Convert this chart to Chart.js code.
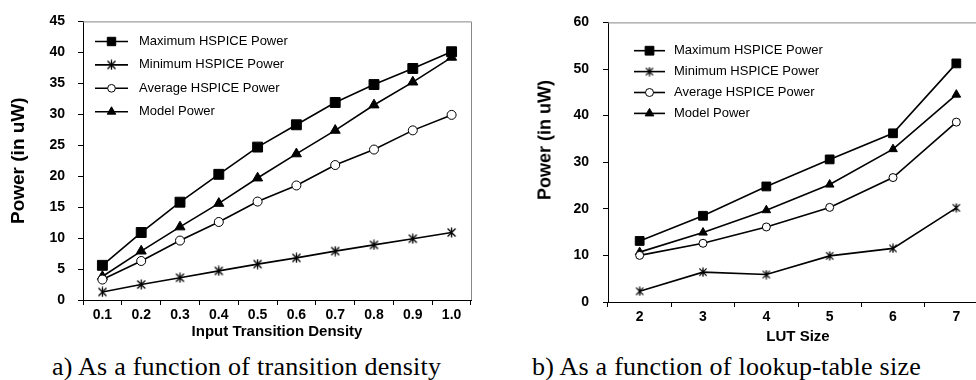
<!DOCTYPE html>
<html>
<head>
<meta charset="utf-8">
<script src="https://cdn.jsdelivr.net/npm/chart.js@4.4.1/dist/chart.umd.min.js"></script>
<style>
  html, body { margin: 0; padding: 0; background: #fff; overflow: hidden; }
  #wrap { position: relative; width: 976px; height: 380px; overflow: hidden; }
  #chartA { position: absolute; left: 0; top: 0; }
  #chartB { position: absolute; left: 500px; top: 0; }
  .caption { position: absolute; top: 352px; font-family: 'Liberation Serif', 'Times New Roman', serif; font-size: 26px; letter-spacing: 0.25px; line-height: 30px; color: #000; white-space: nowrap; }
  #capA { left: 52px; }
  #capB { left: 532px; }
  #ytitleB { position: absolute; left: 545px; top: 140px; transform: translate(-50%, -50%) rotate(-90deg);
             font-family: 'Liberation Sans', Arial, sans-serif; font-weight: bold; font-size: 18px; white-space: nowrap; }
</style>
</head>
<body>
<div id="wrap">
  <canvas id="chartA" width="490" height="345"></canvas>
  <canvas id="chartB" width="500" height="350"></canvas>
  <div id="ytitleB">Power (in uW)</div>
  <div class="caption" id="capA">a) As a function of transition density</div>
  <div class="caption" id="capB">b) As a function of lookup-table size</div>
</div>
<script>
// series names
const seriesNames = ['Maximum HSPICE Power', 'Minimum HSPICE Power', 'Average HSPICE Power', 'Model Power'];

// a) transition density
const densityLabels = ['0.1', '0.2', '0.3', '0.4', '0.5', '0.6', '0.7', '0.8', '0.9', '1.0'];
const densityMax = [5.6, 10.9, 15.8, 20.3, 24.7, 28.3, 31.9, 34.8, 37.4, 40.1];
const densityMin = [1.3, 2.5, 3.6, 4.7, 5.8, 6.8, 7.9, 8.9, 9.9, 10.9];
const densityAvg = [3.3, 6.3, 9.6, 12.6, 15.9, 18.5, 21.8, 24.3, 27.4, 29.9];
const densityModel = [3.8, 7.9, 11.8, 15.6, 19.7, 23.6, 27.4, 31.5, 35.2, 39.2];

// b) LUT size
const lutLabels = ['2', '3', '4', '5', '6', '7'];
const lutMax = [13.1, 18.5, 24.8, 30.6, 36.2, 51.2];
const lutMin = [2.3, 6.4, 5.9, 9.9, 11.5, 20.2];
const lutAvg = [10.0, 12.6, 16.1, 20.3, 26.7, 38.6];
const lutModel = [10.7, 14.9, 19.7, 25.2, 32.8, 44.5];

const SANS = "'Liberation Sans', Arial, sans-serif";

// asterisk marker (X plus vertical bar)
function makeStar(size) {
    const c = document.createElement('canvas');
    c.width = size; c.height = size;
    const g = c.getContext('2d');
    const m = size / 2, r = size / 2 - 0.5;
    g.strokeStyle = '#000';
    g.lineWidth = 1.3;
    g.beginPath();
    g.moveTo(m - r * 0.8, m - r * 0.8); g.lineTo(m + r * 0.8, m + r * 0.8);
    g.moveTo(m + r * 0.8, m - r * 0.8); g.lineTo(m - r * 0.8, m + r * 0.8);
    g.moveTo(m, m - r); g.lineTo(m, m + r);
    g.stroke();
    return c;
}

function makeDatasets(values, sizes) {
    const styles = [
        { pointStyle: 'rect', pointRadius: sizes.rect, pointBackgroundColor: '#000' },
        { pointStyle: makeStar(sizes.star), pointRadius: sizes.star / 2, pointBackgroundColor: '#000' },
        { pointStyle: 'circle', pointRadius: sizes.circle, pointBackgroundColor: '#fff' },
        { pointStyle: 'triangle', pointRadius: sizes.tri, pointBackgroundColor: '#000' }
    ];
    return values.map((v, i) => Object.assign({
        label: seriesNames[i],
        data: v,
        borderColor: '#000',
        borderWidth: 1.6,
        pointBorderColor: '#000',
        pointBorderWidth: 1,
        tension: 0,
        fill: false
    }, styles[i]));
}

// legend drawn inside the plot area
const insideLegend = {
    id: 'insideLegend',
    afterDraw(chart, args, opts) {
        const ctx = chart.ctx;
        ctx.save();
        chart.data.datasets.forEach((ds, i) => {
            const y = opts.y + i * opts.step;
            ctx.strokeStyle = '#000';
            ctx.lineWidth = 1.6;
            ctx.beginPath();
            ctx.moveTo(opts.x, y);
            ctx.lineTo(opts.x + opts.lineLen, y);
            ctx.stroke();
            ctx.fillStyle = ds.pointBackgroundColor;
            ctx.strokeStyle = '#000';
            ctx.lineWidth = 1;
            Chart.helpers.drawPoint(ctx, {
                pointStyle: ds.pointStyle,
                radius: ds.pointRadius * opts.scale,
                rotation: 0,
                borderWidth: 1
            }, opts.x + opts.lineLen / 2, y);
            ctx.fillStyle = '#000';
            ctx.font = opts.font + 'px ' + SANS;
            ctx.textBaseline = 'middle';
            ctx.textAlign = 'left';
            ctx.fillText(ds.label, opts.x + opts.lineLen + opts.gap, y);
        });
        ctx.restore();
    }
};

// grey frame on top and right of the plot area
const frame = {
    id: 'frame',
    beforeDatasetsDraw(chart) {
        const { ctx, chartArea: a } = chart;
        ctx.save();
        ctx.strokeStyle = '#888';
        ctx.lineWidth = 1;
        ctx.beginPath();
        ctx.moveTo(a.left, a.top + 0.5);
        ctx.lineTo(a.right + 0.5, a.top + 0.5);
        ctx.lineTo(a.right + 0.5, a.bottom);
        ctx.stroke();
        ctx.restore();
    }
};

function makeOptions(cfg) {
    return {
        responsive: false,
        animation: false,
        devicePixelRatio: 1,
        layout: { padding: { left: 0, top: cfg.top, right: cfg.right, bottom: 0 } },
        plugins: {
            legend: { display: false },
            tooltip: { enabled: false },
            insideLegend: cfg.legend
        },
        scales: {
            x: {
                type: 'category',
                offset: true,
                afterFit: s => { s.height = cfg.xHeight; },
                grid: { offset: true, drawOnChartArea: false, drawTicks: true, tickLength: 5, color: '#000' },
                border: { display: true, color: '#000', width: 1 },
                ticks: { color: '#000', padding: 2, maxRotation: 0, autoSkip: false, font: { family: SANS, size: cfg.tickSize, weight: 'bold' } },
                title: { display: true, text: cfg.xTitle, color: '#000', padding: { top: 0, bottom: cfg.xTitlePad }, font: { family: SANS, size: cfg.xTitleSize, weight: 'bold' } }
            },
            y: {
                min: 0,
                max: cfg.yMax,
                afterFit: s => { s.width = cfg.yWidth; },
                grid: { drawOnChartArea: false, drawTicks: true, tickLength: 5, color: '#000' },
                border: { display: true, color: '#000', width: 1 },
                ticks: { stepSize: cfg.yStep, color: '#000', padding: cfg.yTickPad, font: { family: SANS, size: cfg.tickSize, weight: 'bold' } },
                title: { display: cfg.yTitle !== '', text: cfg.yTitle, color: '#000', padding: 7, font: { family: SANS, size: 19, weight: 'bold' } }
            }
        }
    };
}

new Chart(document.getElementById('chartA'), {
    type: 'line',
    data: {
        labels: densityLabels,
        datasets: makeDatasets([densityMax, densityMin, densityAvg, densityModel], { rect: 7, star: 11, circle: 4.5, tri: 5.8 })
    },
    options: makeOptions({
        top: 14, right: 19, xHeight: 45, yWidth: 83, yMax: 45, yStep: 5, yTickPad: 13,
        tickSize: 14, xTitle: 'Input Transition Density', xTitleSize: 15, xTitlePad: 4,
        yTitle: 'Power (in uW)',
        legend: { x: 95, y: 41.5, step: 23.4, lineLen: 33, gap: 11, font: 13, scale: 0.85 }
    }),
    plugins: [frame, insideLegend]
});

new Chart(document.getElementById('chartB'), {
    type: 'line',
    data: {
        labels: lutLabels,
        datasets: makeDatasets([lutMax, lutMin, lutAvg, lutModel], { rect: 6.2, star: 10, circle: 4, tri: 5 })
    },
    options: makeOptions({
        top: 12, right: 12, xHeight: 48, yWidth: 108, yMax: 60, yStep: 10, yTickPad: 14,
        tickSize: 14, xTitle: 'LUT Size', xTitleSize: 15, xTitlePad: 4,
        yTitle: '',
        legend: { x: 134, y: 50.7, step: 20.9, lineLen: 31, gap: 9, font: 13, scale: 1 }
    }),
    plugins: [frame, insideLegend]
});
</script>
</body>
</html>
